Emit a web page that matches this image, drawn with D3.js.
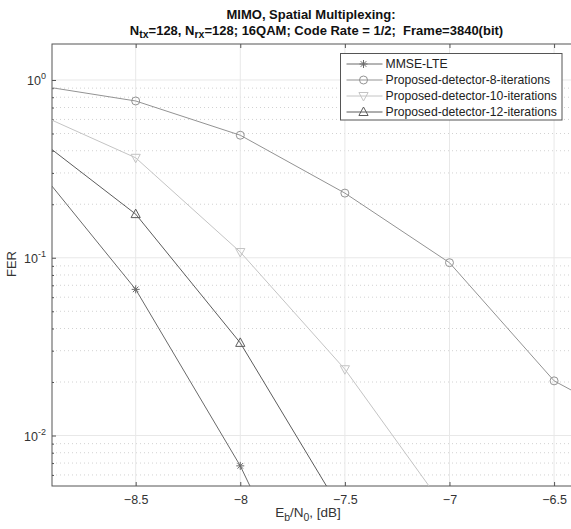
<!DOCTYPE html>
<html><head><meta charset="utf-8">
<script src="https://cdn.jsdelivr.net/npm/d3@7/dist/d3.min.js"></script>
<style>
body{margin:0;background:#fff;}
svg{font-family:"Liberation Sans",Arial,Helvetica,sans-serif;}
text{white-space:pre;}
</style></head>
<body><svg id="c" width="571" height="529"></svg>
<script>
const snr = [-9, -8.5, -8, -7.5, -7, -6.5, -6];
const mmseLte = [0.353, 0.0664, 0.00675, 0.0004, null, null, null];
const prop8  = [0.944, 0.762, 0.489, 0.231, 0.0938, 0.0203, 0.0098];
const prop10 = [0.671, 0.365, 0.1077, 0.0236, 0.0036, null, null];
const prop12 = [0.50, 0.176, 0.0332, 0.0035, null, null, null];
const seriesNames = ["MMSE-LTE","Proposed-detector-8-iterations","Proposed-detector-10-iterations","Proposed-detector-12-iterations"];
const xTicks = [-8.5, -8, -7.5, -7, -6.5];
const yTicks = [1, 0.1, 0.01];
const yTickExp = ["0", "-1", "-2"];

const series = [
  {name: seriesNames[0], vals: mmseLte, color: "#6a6a6a", marker: "star"},
  {name: seriesNames[1], vals: prop8,  color: "#939393", marker: "circle"},
  {name: seriesNames[2], vals: prop10, color: "#c4c4c4", marker: "tridown"},
  {name: seriesNames[3], vals: prop12, color: "#5c5c5c", marker: "triup"}
];

const svg = d3.select("#c");
const L = 52, R = 575, T = 44, B = 486;
const x = d3.scaleLinear().domain([-8.9, -6.4]).range([L, R]);
const y = d3.scaleLog().domain([0.0052, 1.594]).range([B, T]);

svg.append("defs").append("clipPath").attr("id","clip")
  .append("rect").attr("x",L).attr("y",T).attr("width",R-L).attr("height",B-T);

// grid
const g = svg.append("g");
const minor = [];
[0.001,0.01,0.1,1].forEach(d=>{for(let k=2;k<=9;k++){const v=d*k; if(v>0.0052&&v<1.594) minor.push(v);}});
g.selectAll(".mg").data(minor).enter().append("line")
  .attr("x1",L).attr("x2",R).attr("y1",d=>y(d)).attr("y2",d=>y(d))
  .attr("stroke","#d2d2d2").attr("stroke-width",1).attr("stroke-dasharray","1,3");
g.selectAll(".yg").data(yTicks).enter().append("line")
  .attr("x1",L).attr("x2",R).attr("y1",d=>y(d)).attr("y2",d=>y(d))
  .attr("stroke","#e8e8e8").attr("stroke-width",1);
g.selectAll(".xg").data(xTicks).enter().append("line")
  .attr("y1",T).attr("y2",B).attr("x1",d=>x(d)).attr("x2",d=>x(d))
  .attr("stroke","#e8e8e8").attr("stroke-width",1);

// axes box
svg.append("rect").attr("x",L).attr("y",T).attr("width",R-L).attr("height",B-T)
  .attr("fill","none").attr("stroke","#555").attr("stroke-width",1);

// ticks via d3 axes
const xAxisB = svg.append("g").attr("transform",`translate(0,${B})`)
  .call(d3.axisBottom(x).tickValues(xTicks).tickSize(-4).tickPadding(9).tickFormat(d3.format("")));
const xAxisT = svg.append("g").attr("transform",`translate(0,${T})`)
  .call(d3.axisTop(x).tickValues(xTicks).tickSize(-4).tickFormat(""));
const yAxisL = svg.append("g").attr("transform",`translate(${L},0)`)
  .call(d3.axisLeft(y).tickValues(yTicks).tickSize(-4).tickFormat(""));
const yAxisR = svg.append("g").attr("transform",`translate(${R},0)`)
  .call(d3.axisRight(y).tickValues(yTicks).tickSize(-4).tickFormat(""));
const yMinL = svg.append("g").attr("transform",`translate(${L},0)`)
  .call(d3.axisLeft(y).tickValues(minor).tickSize(-2).tickFormat(""));
const yMinR = svg.append("g").attr("transform",`translate(${R},0)`)
  .call(d3.axisRight(y).tickValues(minor).tickSize(-2).tickFormat(""));
[xAxisB,xAxisT,yAxisL,yAxisR,yMinL,yMinR].forEach(a=>{
  a.select(".domain").remove();
  a.selectAll("line").attr("stroke","#555");
});
xAxisB.selectAll("text").attr("font-size",12.5).attr("fill","#333")
  .attr("font-family","Liberation Sans, Arial, sans-serif");

// y tick labels with superscripts
yTicks.forEach((v,i)=>{
  const t = svg.append("text").attr("x",L-6).attr("y",y(v)+5).attr("text-anchor","end")
    .attr("font-size",12.5).attr("fill","#333");
  t.append("tspan").text("10");
  t.append("tspan").attr("dy",-5.5).attr("font-size",9).text(yTickExp[i]);
});

// lines
const plot = svg.append("g").attr("clip-path","url(#clip)");
const line = d3.line().defined(d=>d[1]!=null).x(d=>x(d[0])).y(d=>y(d[1]));
function drawMarker(sel, type, color, cx, cy){
  if(type==="circle"){
    sel.append("circle").attr("cx",cx).attr("cy",cy).attr("r",4).attr("fill","none").attr("stroke",color);
  } else if(type==="triup"){
    sel.append("path").attr("d",`M${cx},${cy-5}L${cx+4.6},${cy+3.5}L${cx-4.6},${cy+3.5}Z`).attr("fill","none").attr("stroke",color);
  } else if(type==="tridown"){
    sel.append("path").attr("d",`M${cx},${cy+5}L${cx+4.6},${cy-3.5}L${cx-4.6},${cy-3.5}Z`).attr("fill","none").attr("stroke",color);
  } else if(type==="star"){
    const r=4;
    sel.append("path").attr("d",`M${cx-r},${cy}L${cx+r},${cy}M${cx},${cy-r}L${cx},${cy+r}M${cx-r*0.7},${cy-r*0.7}L${cx+r*0.7},${cy+r*0.7}M${cx-r*0.7},${cy+r*0.7}L${cx+r*0.7},${cy-r*0.7}`)
      .attr("fill","none").attr("stroke",color);
  }
}
series.forEach(s=>{
  const pts = snr.map((v,i)=>[v,s.vals[i]]);
  plot.append("path").datum(pts).attr("d",line).attr("fill","none").attr("stroke",s.color).attr("stroke-width",1);
  pts.filter(p=>p[1]!=null).forEach(p=>{
    const cx=x(p[0]), cy=y(p[1]);
    if(cx>=L && cx<=R && cy>=T && cy<=B) drawMarker(plot, s.marker, s.color, cx, cy);
  });
});

// legend
const lg = svg.append("g");
const lx = 340.5, ly = 53.5, lw = 221.5, lh = 66.5;
lg.append("rect").attr("x",lx).attr("y",ly).attr("width",lw).attr("height",lh)
  .attr("fill","#fff").attr("stroke","#555").attr("stroke-width",1);
series.forEach((s,i)=>{
  const yy = ly + 10.5 + i*16;
  lg.append("line").attr("x1",lx+6).attr("x2",lx+42).attr("y1",yy).attr("y2",yy).attr("stroke",s.color);
  drawMarker(lg, s.marker, s.color, lx+23, yy);
  lg.append("text").attr("x",lx+45).attr("y",yy+4.3).attr("font-size",12.2).attr("fill","#222").text(s.name);
});

// title
svg.append("text").attr("x",311).attr("y",18.5).attr("text-anchor","middle")
  .attr("font-size",13).attr("font-weight","bold").attr("fill","#111").text("MIMO, Spatial Multiplexing:");
const t2 = svg.append("text").attr("x",316.5).attr("y",34.5).attr("text-anchor","middle")
  .attr("font-size",13).attr("font-weight","bold").attr("fill","#111");
t2.append("tspan").text("N");
t2.append("tspan").attr("dy",3.5).attr("font-size",10.5).text("tx");
t2.append("tspan").attr("dy",-3.5).text("=128, N");
t2.append("tspan").attr("dy",3.5).attr("font-size",10.5).text("rx");
t2.append("tspan").attr("dy",-3.5).text("=128; 16QAM; Code Rate = 1/2;  Frame=3840(bit)");

// x label
const xl = svg.append("text").attr("x",308).attr("y",517).attr("text-anchor","middle")
  .attr("font-size",13.5).attr("fill","#333");
xl.append("tspan").text("E");
xl.append("tspan").attr("dy",3.5).attr("font-size",10.5).text("b");
xl.append("tspan").attr("dy",-3.5).text("/N");
xl.append("tspan").attr("dy",3.5).attr("font-size",10.5).text("0");
xl.append("tspan").attr("dy",-3.5).text(", [dB]");

// y label
svg.append("text").attr("transform","translate(16,264) rotate(-90)").attr("text-anchor","middle")
  .attr("font-size",13).attr("fill","#333").text("FER");
</script></body></html>
